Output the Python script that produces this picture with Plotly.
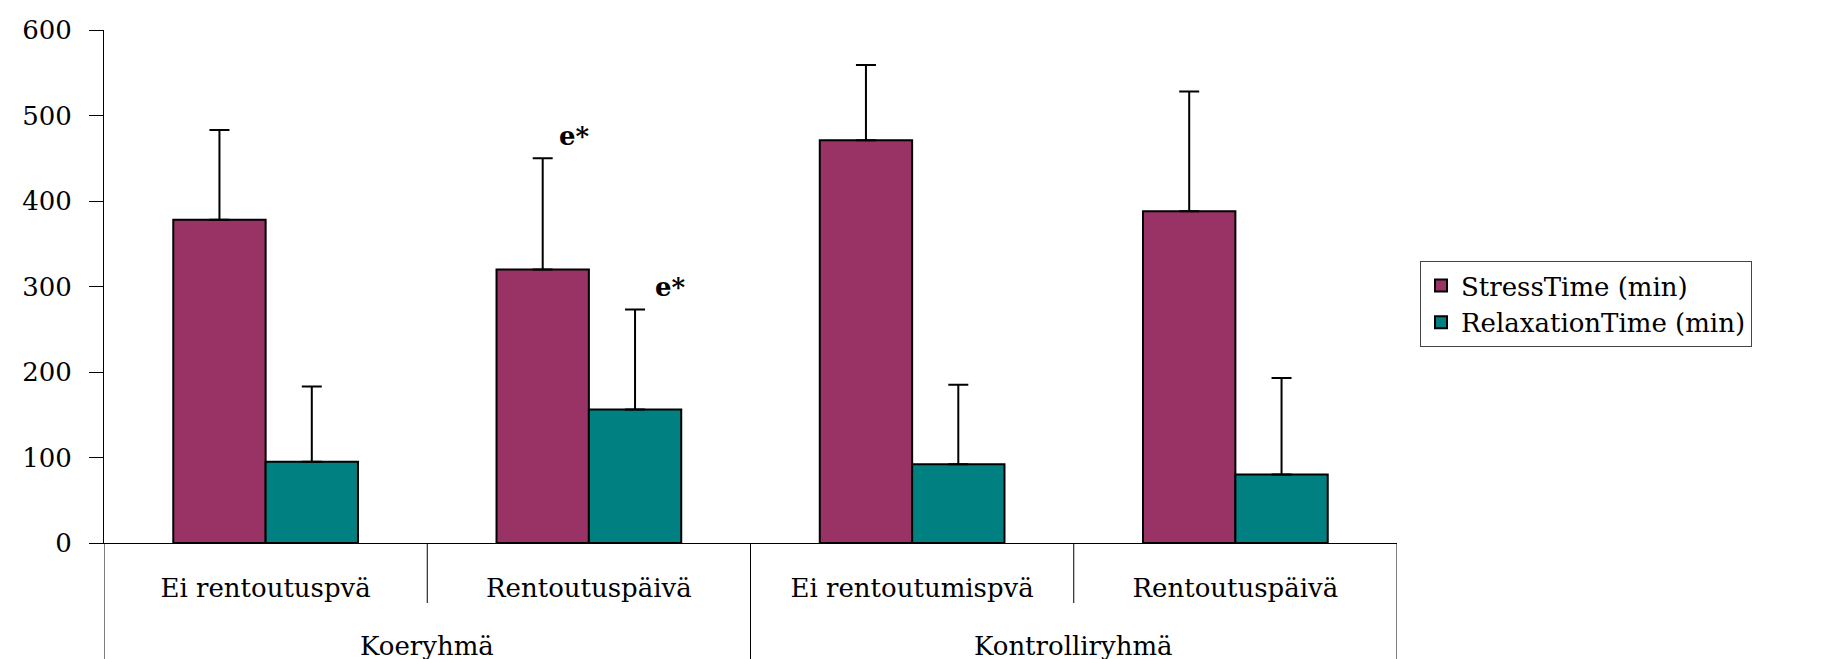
import plotly.graph_objects as go

# ---- data ----
groups = ["Koeryhmä", "Koeryhmä", "Kontrolliryhmä", "Kontrolliryhmä"]
days = ["Ei rentoutuspvä", "Rentoutuspäivä", "Ei rentoutumispvä", "Rentoutuspäivä"]
stress_time = [378, 320, 471, 388]
stress_sd = [105, 130, 88, 140]
relax_time = [95, 156, 92, 80]
relax_sd = [88, 117, 93, 113]
y_ticks = [0, 100, 200, 300, 400, 500, 600]
sig_label = "e*"

FONT = "DejaVu Serif, Liberation Serif, serif"
FS = 26
STRESS_COLOR = "#993366"
RELAX_COLOR = "#008080"

pos = list(range(len(days)))

fig = go.Figure()
fig.add_trace(go.Bar(
    name="StressTime (min)", x=pos, y=stress_time,
    marker=dict(color=STRESS_COLOR, line=dict(color="black", width=2)),
    error_y=dict(type="data", symmetric=False, array=stress_sd,
                 arrayminus=[0] * len(stress_sd), color="black",
                 thickness=2, width=10),
))
fig.add_trace(go.Bar(
    name="RelaxationTime (min)", x=pos, y=relax_time,
    marker=dict(color=RELAX_COLOR, line=dict(color="black", width=2)),
    error_y=dict(type="data", symmetric=False, array=relax_sd,
                 arrayminus=[0] * len(relax_sd), color="black",
                 thickness=2, width=10),
))

# page body has an 8px margin; compensate so the plot lands where the reference has it
W, H = 1826, 659
ML, MR, MT, MB = 96, 437, 22, 124
PH = H - MT - MB
PW = W - ML - MR

shapes = []
# dividers below the x axis
bounds = [-0.5] + [i + 0.5 for i in range(len(days) - 1)] + [len(days) - 0.5]
for b in bounds:
    i = int(b + 0.5)
    inner = 0 < i < len(days) and groups[i - 1] == groups[i]
    shapes.append(dict(type="line", xref="x", yref="paper",
                       ysizemode="pixel", yanchor=0,
                       x0=b, x1=b, y0=0, y1=-60 if inner else -MB - 10,
                       line=dict(color="black", width=1)))

annotations = []
# group labels, centred under their days
for g in dict.fromkeys(groups):
    idx = [i for i, gg in enumerate(groups) if gg == g]
    annotations.append(dict(xref="x", yref="paper", x=sum(idx) / len(idx), y=0,
                            yshift=-103, yanchor="middle", showarrow=False,
                            text=g, font=dict(family=FONT, size=FS, color="black")))
# significance marks
annotations.append(dict(xref="x", yref="y", x=1, y=stress_time[1] + stress_sd[1],
                        text="<b>" + sig_label + "</b>", showarrow=False,
                        xshift=-14, yshift=5, yanchor="bottom",
                        font=dict(family=FONT, size=26, color="black")))
annotations.append(dict(xref="x", yref="y", x=1, y=relax_time[1] + relax_sd[1],
                        text="<b>" + sig_label + "</b>", showarrow=False,
                        xshift=82, yshift=6, yanchor="bottom",
                        font=dict(family=FONT, size=26, color="black")))

fig.update_layout(
    width=W, height=H, autosize=False,
    margin=dict(l=ML, r=MR, t=MT, b=MB, pad=0),
    paper_bgcolor="white", plot_bgcolor="white",
    barmode="group", bargap=1.5 / 3.5, bargroupgap=0,
    font=dict(family=FONT, size=FS, color="black"),
    showlegend=True,
    legend=dict(x=(1412 - ML) / PW, y=(H - MB - 253) / PH,
                xanchor="left", yanchor="top",
                bgcolor="white", bordercolor="#444", borderwidth=1,
                font=dict(family=FONT, size=FS, color="black"),
                entrywidth=380, entrywidthmode="pixels",
                traceorder="normal"),
    shapes=shapes,
    annotations=annotations,
    xaxis=dict(range=[-0.5, len(days) - 0.5], tickvals=pos, ticktext=days,
               showline=True, linecolor="black", linewidth=1, ticks="",
               showgrid=False, zeroline=False, automargin=False,
               ticklabelstandoff=22,
               tickfont=dict(family=FONT, size=FS, color="black")),
    yaxis=dict(range=[0, 600], tickvals=y_ticks, showline=True,
               linecolor="black", linewidth=1, ticks="outside", ticklen=14,
               tickcolor="black", tickwidth=1, showgrid=False, zeroline=False,
               ticklabelstandoff=12, automargin=False,
               tickfont=dict(family=FONT, size=FS, color="black")),
)

fig.write_html("out.html")
